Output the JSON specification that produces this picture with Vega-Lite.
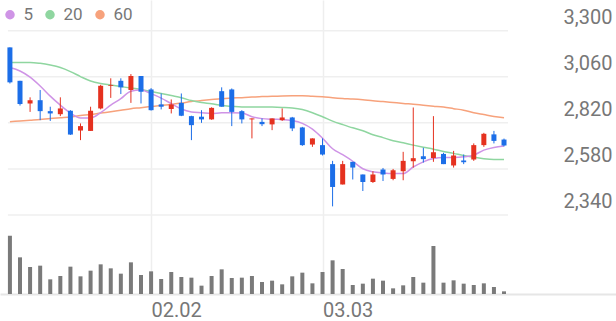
{
  "$schema": "https://vega.github.io/schema/vega-lite/v6.json",
  "width": 616,
  "height": 294,
  "autosize": {"type": "none"},
  "padding": {"left": 0, "top": 0, "right": 0, "bottom": 27},
  "background": "white",
  "config": {"view": {"stroke": null}, "font": "Roboto"},
  "datasets": {
    "candles": [
      {"i":0,"o":3213,"h":3213,"l":3025,"c":3031,"v":175000,"m5":3108,"m20":3135,"m60":2826},
      {"i":1,"o":3039,"h":3039,"l":2910,"c":2918,"v":110000,"m5":3090,"m20":3135,"m60":2830},
      {"i":2,"o":2921,"h":2953,"l":2877,"c":2938,"v":81000,"m5":3058,"m20":3135,"m60":2834},
      {"i":3,"o":2938,"h":2991,"l":2834,"c":2881,"v":85000,"m5":3012,"m20":3130,"m60":2838},
      {"i":4,"o":2881,"h":2904,"l":2830,"c":2869,"v":44000,"m5":2959,"m20":3121,"m60":2843},
      {"i":5,"o":2865,"h":2953,"l":2855,"c":2895,"v":54000,"m5":2912,"m20":3108,"m60":2847},
      {"i":6,"o":2883,"h":2886,"l":2757,"c":2759,"v":82000,"m5":2871,"m20":3087,"m60":2851},
      {"i":7,"o":2780,"h":2817,"l":2730,"c":2803,"v":53000,"m5":2845,"m20":3061,"m60":2858},
      {"i":8,"o":2778,"h":2904,"l":2778,"c":2883,"v":70000,"m5":2845,"m20":3038,"m60":2863},
      {"i":9,"o":2895,"h":3018,"l":2890,"c":3013,"v":89000,"m5":2873,"m20":3025,"m60":2871},
      {"i":10,"o":3012,"h":3052,"l":2950,"c":3016,"v":77000,"m5":2912,"m20":3017,"m60":2878},
      {"i":11,"o":3039,"h":3052,"l":2970,"c":3005,"v":61000,"m5":2946,"m20":3009,"m60":2886},
      {"i":12,"o":2991,"h":3074,"l":2924,"c":3064,"v":95000,"m5":2985,"m20":3001,"m60":2894},
      {"i":13,"o":3064,"h":3064,"l":2921,"c":2982,"v":57000,"m5":2991,"m20":2994,"m60":2899},
      {"i":14,"o":2994,"h":3001,"l":2884,"c":2886,"v":68000,"m5":2972,"m20":2983,"m60":2905},
      {"i":15,"o":2916,"h":2973,"l":2890,"c":2904,"v":45000,"m5":2949,"m20":2973,"m60":2911},
      {"i":16,"o":2892,"h":2942,"l":2869,"c":2916,"v":66000,"m5":2920,"m20":2962,"m60":2916},
      {"i":17,"o":2924,"h":2973,"l":2855,"c":2857,"v":51000,"m5":2892,"m20":2951,"m60":2923},
      {"i":18,"o":2855,"h":2857,"l":2730,"c":2808,"v":49000,"m5":2877,"m20":2936,"m60":2931},
      {"i":19,"o":2852,"h":2886,"l":2820,"c":2838,"v":25000,"m5":2873,"m20":2926,"m60":2936},
      {"i":20,"o":2838,"h":2901,"l":2836,"c":2898,"v":54000,"m5":2869,"m20":2919,"m60":2941},
      {"i":21,"o":2985,"h":3005,"l":2904,"c":2904,"v":74000,"m5":2872,"m20":2910,"m60":2945},
      {"i":22,"o":2994,"h":2999,"l":2803,"c":2877,"v":48000,"m5":2872,"m20":2906,"m60":2949},
      {"i":23,"o":2881,"h":2886,"l":2817,"c":2838,"v":49000,"m5":2871,"m20":2903,"m60":2951},
      {"i":24,"o":2838,"h":2843,"l":2739,"c":2843,"v":54000,"m5":2852,"m20":2903,"m60":2954},
      {"i":25,"o":2825,"h":2843,"l":2803,"c":2813,"v":36000,"m5":2842,"m20":2903,"m60":2957},
      {"i":26,"o":2812,"h":2843,"l":2782,"c":2843,"v":40000,"m5":2839,"m20":2902,"m60":2958},
      {"i":27,"o":2834,"h":2895,"l":2830,"c":2848,"v":29000,"m5":2838,"m20":2900,"m60":2960},
      {"i":28,"o":2848,"h":2851,"l":2777,"c":2791,"v":53000,"m5":2832,"m20":2897,"m60":2961},
      {"i":29,"o":2796,"h":2799,"l":2700,"c":2704,"v":64000,"m5":2817,"m20":2889,"m60":2961},
      {"i":30,"o":2707,"h":2739,"l":2695,"c":2739,"v":32000,"m5":2787,"m20":2873,"m60":2958},
      {"i":31,"o":2704,"h":2739,"l":2650,"c":2655,"v":66000,"m5":2740,"m20":2852,"m60":2956},
      {"i":32,"o":2605,"h":2622,"l":2385,"c":2486,"v":101000,"m5":2685,"m20":2829,"m60":2951},
      {"i":33,"o":2499,"h":2622,"l":2499,"c":2605,"v":75000,"m5":2654,"m20":2811,"m60":2947},
      {"i":34,"o":2617,"h":2617,"l":2525,"c":2587,"v":27000,"m5":2620,"m20":2794,"m60":2944},
      {"i":35,"o":2551,"h":2551,"l":2465,"c":2512,"v":31000,"m5":2581,"m20":2779,"m60":2940},
      {"i":36,"o":2512,"h":2568,"l":2507,"c":2551,"v":46000,"m5":2565,"m20":2758,"m60":2935},
      {"i":37,"o":2577,"h":2585,"l":2517,"c":2551,"v":40000,"m5":2559,"m20":2743,"m60":2931},
      {"i":38,"o":2528,"h":2580,"l":2521,"c":2573,"v":17000,"m5":2556,"m20":2727,"m60":2926},
      {"i":39,"o":2568,"h":2669,"l":2521,"c":2622,"v":26000,"m5":2556,"m20":2716,"m60":2921},
      {"i":40,"o":2620,"h":2900,"l":2587,"c":2636,"v":51000,"m5":2590,"m20":2704,"m60":2917},
      {"i":41,"o":2646,"h":2690,"l":2613,"c":2631,"v":34000,"m5":2617,"m20":2693,"m60":2912},
      {"i":42,"o":2637,"h":2855,"l":2617,"c":2667,"v":144000,"m5":2634,"m20":2683,"m60":2907},
      {"i":43,"o":2658,"h":2664,"l":2605,"c":2605,"v":34000,"m5":2640,"m20":2671,"m60":2902},
      {"i":44,"o":2598,"h":2674,"l":2587,"c":2650,"v":41000,"m5":2640,"m20":2661,"m60":2894},
      {"i":45,"o":2624,"h":2655,"l":2605,"c":2615,"v":31000,"m5":2643,"m20":2650,"m60":2886},
      {"i":46,"o":2629,"h":2713,"l":2622,"c":2704,"v":27000,"m5":2652,"m20":2641,"m60":2873},
      {"i":47,"o":2704,"h":2768,"l":2695,"c":2763,"v":32000,"m5":2678,"m20":2633,"m60":2863},
      {"i":48,"o":2760,"h":2778,"l":2713,"c":2726,"v":21000,"m5":2692,"m20":2629,"m60":2853},
      {"i":49,"o":2733,"h":2738,"l":2697,"c":2702,"v":8000,"m5":2700,"m20":2629,"m60":2846}
    ],
    "grid": [{"p":2340},{"p":2580},{"p":2820},{"p":3060},{"p":3300}]
  },
  "layer": [
    {
      "data": {"name": "candles"},
      "mark": {"type": "bar", "width": 4, "color": "#7a7a7a"},
      "encoding": {
        "x": {
          "field": "i", "type": "quantitative",
          "scale": {"domain": [-0.4878, 59.61], "nice": false, "zero": false},
          "axis": {"values": [14, 31], "labelExpr": "datum.value == 14 ? '02.02' : '03.03'", "labelAlign": "left", "labelFontSize": 20, "labelFont": "Roboto", "labelColor": "#777777", "labelPadding": 6, "ticks": false, "title": null, "grid": true, "gridColor": "#eeeeee", "gridWidth": 1.5, "domainColor": "#e6e6e6", "domainWidth": 2}
        },
        "y": {"field": "v", "type": "quantitative", "scale": {"domain": [0, 882000], "nice": false}, "axis": null}
      }
    },
    {
      "layer": [
        {
          "data": {"name": "grid"},
          "mark": {"type": "rule", "color": "#efefef", "strokeWidth": 1.5},
          "encoding": {
            "y": {"field": "p", "type": "quantitative", "scale": {"domain": [1928.5, 3459.9], "nice": false, "zero": false},
              "axis": {"orient": "right", "values": [2340, 2580, 2820, 3060, 3300], "labelExpr": "format(datum.value, ',d')", "labelAlign": "right", "labelPadding": -4, "labelBaseline": "alphabetic", "labelOffset": -7, "labelFontSize": 20, "labelFont": "Roboto", "labelColor": "#777777", "grid": false, "ticks": false, "domain": false, "title": null}},
            "x": {"datum": -0.2, "type": "quantitative",
              "axis": {"values": [14, 31], "labelExpr": "datum.value == 14 ? '02.02' : '03.03'", "labelAlign": "left", "labelFontSize": 20, "labelFont": "Roboto", "labelColor": "#777777", "labelPadding": 6, "ticks": false, "title": null, "grid": true, "gridColor": "#eeeeee", "gridWidth": 1.5, "domainColor": "#e6e6e6", "domainWidth": 2}},
            "x2": {"datum": 49.4}
          }
        },
        {
          "data": {"name": "candles"},
          "mark": {"type": "line", "strokeWidth": 1.5, "interpolate": "monotone"},
          "encoding": {
            "x": {"field": "i", "type": "quantitative",
              "axis": {"values": [14, 31], "labelExpr": "datum.value == 14 ? '02.02' : '03.03'", "labelAlign": "left", "labelFontSize": 20, "labelFont": "Roboto", "labelColor": "#777777", "labelPadding": 6, "ticks": false, "title": null, "grid": true, "gridColor": "#eeeeee", "gridWidth": 1.5, "domainColor": "#e6e6e6", "domainWidth": 2}},
            "y": {"field": "m60", "type": "quantitative", "scale": {"domain": [1928.5, 3459.9], "nice": false, "zero": false},
              "axis": {"orient": "right", "values": [2340, 2580, 2820, 3060, 3300], "labelExpr": "format(datum.value, ',d')", "labelAlign": "right", "labelPadding": -4, "labelBaseline": "alphabetic", "labelOffset": -7, "labelFontSize": 20, "labelFont": "Roboto", "labelColor": "#777777", "grid": false, "ticks": false, "domain": false, "title": null}},
            "color": {
              "datum": "60",
              "scale": {"domain": ["5", "20", "60"], "range": ["#cf94e6", "#8fd6a0", "#f7a27c"]},
              "legend": {
                "title": null, "orient": "none", "legendX": 1.5, "legendY": 6, "direction": "horizontal",
                "symbolType": "circle", "symbolSize": 90, "labelFontSize": 17, "labelFont": "Roboto", "labelColor": "#777777",
                "labelOffset": 5, "columnPadding": 8, "padding": 0,
                "encode": {"symbols": {"update": {"fill": {"scale": "color", "field": "value"}, "strokeWidth": {"value": 0}, "opacity": {"value": 1}}}}
              }
            }
          }
        },
        {
          "data": {"name": "candles"},
          "mark": {"type": "line", "strokeWidth": 1.5, "interpolate": "monotone"},
          "encoding": {
            "x": {"field": "i", "type": "quantitative",
              "axis": {"values": [14, 31], "labelExpr": "datum.value == 14 ? '02.02' : '03.03'", "labelAlign": "left", "labelFontSize": 20, "labelFont": "Roboto", "labelColor": "#777777", "labelPadding": 6, "ticks": false, "title": null, "grid": true, "gridColor": "#eeeeee", "gridWidth": 1.5, "domainColor": "#e6e6e6", "domainWidth": 2}},
            "y": {"field": "m20", "type": "quantitative", "scale": {"domain": [1928.5, 3459.9], "nice": false, "zero": false},
              "axis": {"orient": "right", "values": [2340, 2580, 2820, 3060, 3300], "labelExpr": "format(datum.value, ',d')", "labelAlign": "right", "labelPadding": -4, "labelBaseline": "alphabetic", "labelOffset": -7, "labelFontSize": 20, "labelFont": "Roboto", "labelColor": "#777777", "grid": false, "ticks": false, "domain": false, "title": null}},
            "color": {"datum": "20"}
          }
        },
        {
          "data": {"name": "candles"},
          "mark": {"type": "line", "strokeWidth": 1.5, "interpolate": "monotone"},
          "encoding": {
            "x": {"field": "i", "type": "quantitative",
              "axis": {"values": [14, 31], "labelExpr": "datum.value == 14 ? '02.02' : '03.03'", "labelAlign": "left", "labelFontSize": 20, "labelFont": "Roboto", "labelColor": "#777777", "labelPadding": 6, "ticks": false, "title": null, "grid": true, "gridColor": "#eeeeee", "gridWidth": 1.5, "domainColor": "#e6e6e6", "domainWidth": 2}},
            "y": {"field": "m5", "type": "quantitative", "scale": {"domain": [1928.5, 3459.9], "nice": false, "zero": false},
              "axis": {"orient": "right", "values": [2340, 2580, 2820, 3060, 3300], "labelExpr": "format(datum.value, ',d')", "labelAlign": "right", "labelPadding": -4, "labelBaseline": "alphabetic", "labelOffset": -7, "labelFontSize": 20, "labelFont": "Roboto", "labelColor": "#777777", "grid": false, "ticks": false, "domain": false, "title": null}},
            "color": {"datum": "5"}
          }
        },
        {
          "data": {"name": "candles"},
          "mark": {"type": "rule", "strokeWidth": 1},
          "encoding": {
            "x": {"field": "i", "type": "quantitative",
              "axis": {"values": [14, 31], "labelExpr": "datum.value == 14 ? '02.02' : '03.03'", "labelAlign": "left", "labelFontSize": 20, "labelFont": "Roboto", "labelColor": "#777777", "labelPadding": 6, "ticks": false, "title": null, "grid": true, "gridColor": "#eeeeee", "gridWidth": 1.5, "domainColor": "#e6e6e6", "domainWidth": 2}},
            "y": {"field": "l", "type": "quantitative", "scale": {"domain": [1928.5, 3459.9], "nice": false, "zero": false},
              "axis": {"orient": "right", "values": [2340, 2580, 2820, 3060, 3300], "labelExpr": "format(datum.value, ',d')", "labelAlign": "right", "labelPadding": -4, "labelBaseline": "alphabetic", "labelOffset": -7, "labelFontSize": 20, "labelFont": "Roboto", "labelColor": "#777777", "grid": false, "ticks": false, "domain": false, "title": null}},
            "y2": {"field": "h"},
            "color": {"condition": {"test": "datum.c >= datum.o", "value": "#e5311f"}, "value": "#1c6ee8"}
          }
        },
        {
          "data": {"name": "candles"},
          "mark": {"type": "bar", "width": 5},
          "encoding": {
            "x": {"field": "i", "type": "quantitative",
              "axis": {"values": [14, 31], "labelExpr": "datum.value == 14 ? '02.02' : '03.03'", "labelAlign": "left", "labelFontSize": 20, "labelFont": "Roboto", "labelColor": "#777777", "labelPadding": 6, "ticks": false, "title": null, "grid": true, "gridColor": "#eeeeee", "gridWidth": 1.5, "domainColor": "#e6e6e6", "domainWidth": 2}},
            "y": {"field": "o", "type": "quantitative", "scale": {"domain": [1928.5, 3459.9], "nice": false, "zero": false},
              "axis": {"orient": "right", "values": [2340, 2580, 2820, 3060, 3300], "labelExpr": "format(datum.value, ',d')", "labelAlign": "right", "labelPadding": -4, "labelBaseline": "alphabetic", "labelOffset": -7, "labelFontSize": 20, "labelFont": "Roboto", "labelColor": "#777777", "grid": false, "ticks": false, "domain": false, "title": null}},
            "y2": {"field": "c"},
            "color": {"condition": {"test": "datum.c >= datum.o", "value": "#e5311f"}, "value": "#1c6ee8"}
          }
        }
      ]
    }
  ],
  "resolve": {"scale": {"y": "independent"}}
}
